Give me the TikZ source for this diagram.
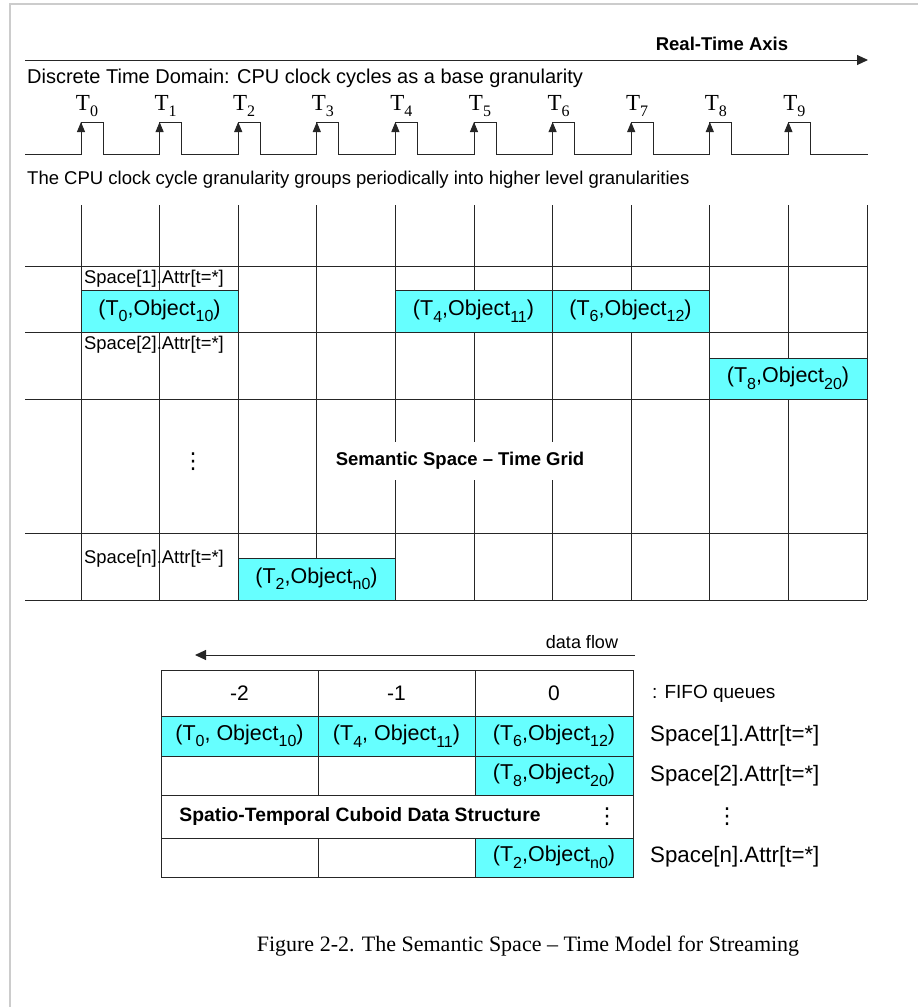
\documentclass[tikz,border=0pt]{standalone}
\usepackage{fontspec}
\setmainfont{Liberation Sans}
\newfontfamily\capfont{Liberation Serif}
\newfontfamily\dotfont{DejaVu Sans}
\usetikzlibrary{arrows.meta}
\usetikzlibrary{positioning}
\definecolor{qcyan}{HTML}{66FFFF}
\definecolor{framegray}{HTML}{CCCCCC}
\newcommand{\lowidx}[1]{\raisebox{-0.3em}{\fontsize{16}{16}\selectfont #1}}

\begin{document}
\begin{tikzpicture}[x=1pt,y=-1pt,
  wire/.style={draw=black!85, line width=1pt},
  tip/.style={-{Triangle[length=11pt,width=10pt]}},
  txt/.style={inner sep=0pt, anchor=west, font=\fontsize{20}{22}\selectfont},
  bold/.style={inner sep=0pt, font=\fontsize{18.5}{21}\selectfont\bfseries},
  lab/.style={inner sep=0pt, anchor=west, font=\fontsize{18.4}{21}\selectfont},
  rlab/.style={inner sep=0pt, anchor=west, font=\fontsize{22.3}{24}\selectfont},
  vdot/.style={inner sep=0pt, font=\dotfont\fontsize{22}{24}\selectfont},
  tick/.style={inner sep=0pt, font=\capfont\fontsize{23}{24}\selectfont},
  qbox/.style={draw=black!85, line width=1pt, fill=qcyan, inner sep=0pt,
    font=\fontsize{21.5}{22}\selectfont}]
\useasboundingbox (0,0) rectangle (918,1007);
\draw[framegray, line width=2pt] (918,4) -- (9.5,4) -- (9.5,1007);

% real-time axis
\coordinate (axS) at (25,60);
\coordinate (axE) at (868,60);
\draw[wire,tip] (axS) -- (axE);
\node[bold] (axis) at (722,44) {Real-Time Axis};
\node[txt] (discrete) at (27,78) {Discrete Time Domain: CPU clock cycles as a base granularity};

% clock cycles
\draw[wire] (25,154) \foreach \i in {0,...,9}{ -- ({81+78.6*\i},154) -- ({81+78.6*\i},122)
  -- ({103+78.6*\i},122) -- ({103+78.6*\i},154)} -- (868,154);
\foreach \i in {0,...,9}{
  \draw[wire,-{Triangle[length=10pt,width=8pt]}] ({81+78.6*\i},142) -- ({81+78.6*\i},122);
  \node[tick] (T\i) at ({87+78.6*\i},106) {T\lowidx{\i}};
}
\node[txt, font=\fontsize{18.5}{22}\selectfont] (groups) at (27,180) {The CPU clock cycle granularity groups periodically into higher level granularities};

% semantic space - time grid
\foreach \k in {0,...,10}
  \draw[wire] ({81+78.6*\k},205) -- ({81+78.6*\k},600);
\foreach \y in {266,332,399,533,600}
  \draw[wire] (25,\y) -- (867,\y);
\node[qbox, minimum width=157pt, minimum height=42pt] (o10) at (159.5,311) {(T\lowidx{0},Object\lowidx{10})};
\node[qbox, minimum width=157pt, minimum height=42pt] (o11) at (473.5,311) {(T\lowidx{4},Object\lowidx{11})};
\node[qbox, minimum width=157pt, minimum height=42pt] (o12) at (630.5,311) {(T\lowidx{6},Object\lowidx{12})};
\node[qbox, minimum width=158pt, minimum height=41pt] (o20) at (788,378.5) {(T\lowidx{8},Object\lowidx{20})};
\node[qbox, minimum width=157pt, minimum height=42pt] (on0) at (316.5,579) {(T\lowidx{2},Object\lowidx{n0})};
\node[lab] (s1) at (84,279) {Space[1].Attr[t=*]};
\node[lab] (s2) at (84,345) {Space[2].Attr[t=*]};
\node[lab] (sn) at (84,559) {Space[n].Attr[t=*]};
\node[vdot] (sdots) at (193,462) {⋮};
\node[bold, fill=white, inner xsep=3pt, inner ysep=10pt] (grid) at (460,461) {Semantic Space – Time Grid};

% data flow
\coordinate (dfS) at (635,655);
\coordinate (dfE) at (195,655);
\draw[wire,tip] (dfS) -- (dfE);
\node[inner sep=0pt, font=\fontsize{18}{21}\selectfont] (flow) at (582,642) {data flow};

% spatio-temporal cuboid
\draw[wire] (161,670) rectangle (633,877);
\foreach \y in {716,756,795,838}
  \draw[wire] (161,\y) -- (633,\y);
\draw[wire] (318,670) -- (318,795);
\draw[wire] (475,670) -- (475,795);
\draw[wire] (318,838) -- (318,877);
\draw[wire] (475,838) -- (475,877);
\node[inner sep=0pt, font=\fontsize{21}{22}\selectfont] (qm2) at (239.5,693) {-2};
\node[inner sep=0pt, font=\fontsize{21}{22}\selectfont] (qm1) at (396.5,693) {-1};
\node[inner sep=0pt, font=\fontsize{21}{22}\selectfont] (q0) at (554,693) {0};
\node[qbox, minimum width=157pt, minimum height=40pt] (c10) at (239.5,736) {(T\lowidx{0}, Object\lowidx{10})};
\node[qbox, minimum width=157pt, minimum height=40pt] (c11) at (396.5,736) {(T\lowidx{4}, Object\lowidx{11})};
\node[qbox, minimum width=158pt, minimum height=40pt] (c12) at (554,736) {(T\lowidx{6},Object\lowidx{12})};
\node[qbox, minimum width=158pt, minimum height=39pt] (c20) at (554,775.5) {(T\lowidx{8},Object\lowidx{20})};
\node[qbox, minimum width=158pt, minimum height=39pt] (cn0) at (554,857.5) {(T\lowidx{2},Object\lowidx{n0})};
\node[bold, font=\fontsize{19.3}{21}\selectfont\bfseries] (cuboid) at (360,816) {Spatio-Temporal Cuboid Data Structure};
\node[vdot] (cdots) at (607,817) {⋮};
\node[rlab, font=\fontsize{19}{22}\selectfont] (fifo) at (652,694) {: FIFO queues};
\node[rlab] (r1) at (650,736) {Space[1].Attr[t=*]};
\node[rlab] (r2) at (650,776) {Space[2].Attr[t=*]};
\node[vdot] (rdots) at (727,817) {⋮};
\node[rlab] (rn) at (650,857) {Space[n].Attr[t=*]};

% caption
\node[inner sep=0pt, font=\capfont\fontsize{22}{24}\selectfont] (cap) at (528,946) {Figure 2-2. The Semantic Space – Time Model for Streaming};
\end{tikzpicture}
\end{document}
